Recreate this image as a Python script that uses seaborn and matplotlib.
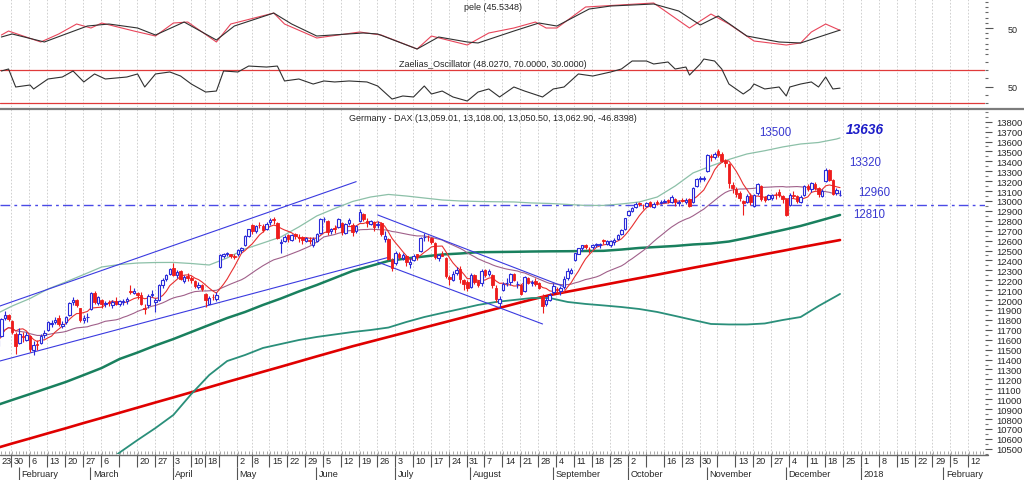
import numpy as np
import pandas as pd
import matplotlib
matplotlib.use("Agg")
import matplotlib.pyplot as plt
import seaborn as sns
from matplotlib.lines import Line2D
from matplotlib.ticker import MultipleLocator, FixedLocator

sns.set_style("white")
plt.rcParams['font.family'] = ['Liberation Sans', 'DejaVu Sans']

# ------------------------------------------------------------------ data
start_day, end_day = '2017-01-23', '2017-12-22'
holidays = ['2017-04-14', '2017-04-17', '2017-05-01']
future_end = '2018-02-28'

opens = [11590, 11540, 11640, 11820, 11850, 11790, 11660, 11570, 11640, 11600,
         11640, 11500, 11560, 11570, 11650, 11700, 11760, 11780, 11820, 11740,
         11780, 11850, 11980, 12000, 11920, 11800, 11830, 11910, 12070, 11970,
         12000, 11960, 11980, 11950, 11990, 11960, 11980, 11990, 12090, 12070,
         12070, 12050, 11920, 11950, 12050, 11980, 12000, 12150, 12210, 12260,
         12320, 12250, 12290, 12190, 12240, 12220, 12190, 12130, 12150,
         12060, 11960, 12030, 12010, 12330, 12440, 12470, 12460, 12440,
         12460, 12510, 12560, 12650, 12760, 12700, 12760, 12750, 12720,
         12790, 12820, 12780, 12580, 12600, 12660, 12610, 12670, 12640, 12640,
         12600, 12610, 12560, 12600, 12680, 12820, 12800, 12700, 12730, 12740,
         12780, 12680, 12780, 12760, 12700, 12800, 12870, 12800, 12770, 12790,
         12760, 12780, 12620, 12620, 12400, 12370, 12470, 12420, 12440, 12360,
         12400, 12460, 12500, 12640, 12640, 12630, 12580, 12420, 12470, 12420,
         12230, 12200, 12270, 12310, 12200, 12180, 12130, 12250, 12190, 12170,
         12300, 12260, 12250, 12120, 11970, 12100, 12170, 12180, 12260, 12160,
         12150, 12090, 12220, 12170, 12190, 12170, 12040, 11960, 12000, 12080,
         12110, 12090, 12130, 12220, 12270, 12400, 12470, 12530, 12560, 12520,
         12540, 12560, 12560, 12610, 12570, 12560, 12590, 12620, 12670, 12720,
         12860, 12900, 12940, 12980, 12960, 12950, 12990, 12940, 12990, 12980,
         12990, 13010, 12990, 13020, 12980, 13010, 12990, 13020, 12990, 13150,
         13220, 13220, 13300, 13450, 13440, 13500, 13470, 13400, 13370, 13160,
         13120, 13080, 13000, 12990, 13050, 12950, 13080, 13150, 13040, 13020,
         13030, 13060, 13090, 13050, 13020, 12960, 13060, 13050, 12990, 13060,
         13150, 13120, 13170, 13130, 13050, 13200, 13310, 13210, 13080, 13059.01]
highs = [11600, 11610, 11815, 11893, 11860, 11800, 11680, 11720, 11680, 11680,
         11650, 11590, 11600, 11660, 11700, 11790, 11800, 11830, 11850, 11790,
         11840, 11980, 12030, 12010, 11925, 11850, 11870, 12080, 12090, 12040,
         12010, 11990, 12000, 12000, 12030, 12000, 12010, 12030, 12150, 12120,
         12080, 12080, 11960, 12060, 12100, 12020, 12160, 12220, 12260, 12320,
         12375, 12300, 12300, 12250, 12270, 12240, 12200, 12180, 12160,
         12070, 12040, 12060, 12080, 12460, 12480, 12490, 12470, 12470,
         12520, 12540, 12660, 12720, 12770, 12760, 12790, 12770, 12790,
         12830, 12840, 12790, 12620, 12660, 12670, 12670, 12680, 12670, 12650,
         12640, 12640, 12640, 12680, 12830, 12840, 12810, 12730, 12760, 12830,
         12790, 12780, 12830, 12780, 12760, 12920, 12880, 12830, 12810, 12800,
         12800, 12790, 12700, 12630, 12420, 12500, 12490, 12480, 12450, 12420,
         12460, 12470, 12640, 12680, 12660, 12640, 12590, 12470, 12500, 12430,
         12250, 12290, 12330, 12340, 12210, 12200, 12270, 12260, 12200, 12310,
         12310, 12310, 12260, 12150, 12040, 12180, 12220, 12270, 12270, 12190,
         12160, 12240, 12230, 12200, 12220, 12180, 12060, 12030, 12070, 12170,
         12130, 12140, 12240, 12320, 12320, 12480, 12530, 12560, 12570, 12540,
         12570, 12580, 12580, 12620, 12610, 12610, 12630, 12670, 12720, 12830,
         12910, 12940, 12990, 12990, 12970, 12990, 13000, 12990, 13010, 13010,
         13020, 13020, 13060, 13030, 13010, 13030, 13030, 13030, 13140, 13230,
         13250, 13250, 13470, 13470, 13490, 13525, 13490, 13420, 13380, 13190,
         13140, 13100, 13010, 13070, 13080, 13070, 13180, 13160, 13050, 13070,
         13070, 13090, 13120, 13060, 13030, 13080, 13100, 13060, 13060, 13160,
         13170, 13190, 13190, 13140, 13120, 13330, 13320, 13220, 13130, 13108.00]
lows = [11490, 11510, 11630, 11800, 11790, 11660, 11460, 11560, 11580, 11590,
        11480, 11450, 11500, 11560, 11620, 11690, 11730, 11760, 11740, 11720,
        11760, 11840, 11950, 11930, 11780, 11770, 11780, 11900, 11960, 11950,
        11920, 11930, 11940, 11920, 11950, 11940, 11950, 11960, 12060, 12060,
        12010, 11950, 11860, 11920, 12030, 11880, 11990, 12120, 12190, 12250,
        12240, 12220, 12200, 12170, 12190, 12170, 12120, 12110, 12090,
        11930, 11960, 12000, 11990, 12320, 12420, 12440, 12420, 12410,
        12440, 12480, 12550, 12640, 12670, 12680, 12730, 12690, 12710,
        12760, 12770, 12620, 12480, 12590, 12590, 12600, 12620, 12590, 12570,
        12590, 12570, 12540, 12590, 12670, 12790, 12660, 12670, 12680, 12730,
        12660, 12670, 12760, 12650, 12680, 12790, 12800, 12740, 12760, 12700,
        12730, 12650, 12590, 12400, 12290, 12350, 12410, 12400, 12340, 12320,
        12390, 12400, 12490, 12600, 12600, 12570, 12410, 12390, 12440, 12220,
        12150, 12190, 12250, 12170, 12100, 12090, 12120, 12160, 12130, 12140,
        12230, 12240, 12120, 11980, 11930, 12090, 12140, 12150, 12190, 12120,
        12050, 12080, 12160, 12140, 12140, 12110, 11870, 11940, 11990, 12060,
        12060, 12050, 12110, 12200, 12260, 12390, 12460, 12500, 12520, 12480,
        12520, 12540, 12530, 12570, 12560, 12540, 12560, 12610, 12660, 12710,
        12850, 12890, 12930, 12950, 12920, 12940, 12940, 12930, 12960, 12970,
        12980, 12980, 12980, 12950, 12950, 12990, 12970, 12940, 12980, 13140,
        13190, 13200, 13290, 13400, 13420, 13440, 13390, 13340, 13130, 13080,
        13040, 13000, 12860, 12980, 12960, 12940, 13060, 13000, 12990, 13010,
        13010, 13020, 13040, 12980, 12850, 12950, 13030, 12980, 12980, 13050,
        13100, 13090, 13110, 13040, 13040, 13190, 13200, 13060, 13060, 13050.50]
closes = [11545, 11595, 11806, 11848, 11814, 11681, 11535, 11659, 11627, 11651,
          11509, 11549, 11543, 11642, 11666, 11774, 11771, 11794, 11757, 11757,
          11827, 11967, 11998, 11947, 11804, 11822, 11834, 12067, 11983, 12027,
          11958, 11967, 11967, 11978, 11963, 11990, 11988, 12009, 12083, 12095,
          12052, 11962, 11905, 12040, 12064, 11996, 12149, 12204, 12257, 12313,
          12257, 12282, 12217, 12230, 12225, 12201, 12139, 12154, 12109,
          12000, 12016, 12027, 12048, 12455, 12467, 12473, 12443, 12438,
          12507, 12528, 12648, 12717, 12694, 12749, 12757, 12711, 12770,
          12808, 12804, 12631, 12590, 12638, 12619, 12659, 12642, 12622, 12602,
          12628, 12599, 12615, 12664, 12822, 12822, 12690, 12714, 12714, 12815,
          12690, 12765, 12806, 12691, 12752, 12888, 12815, 12774, 12794, 12733,
          12771, 12671, 12647, 12416, 12325, 12475, 12437, 12453, 12381, 12389,
          12445, 12437, 12627, 12641, 12632, 12587, 12430, 12452, 12447, 12240,
          12209, 12263, 12305, 12212, 12162, 12118, 12251, 12181, 12154, 12297,
          12258, 12292, 12154, 12015, 12014, 12165, 12177, 12263, 12204, 12165,
          12066, 12230, 12175, 12181, 12167, 12123, 11945, 12002, 12055, 12142,
          12102, 12124, 12214, 12296, 12303, 12476, 12524, 12553, 12540, 12518,
          12559, 12561, 12569, 12600, 12592, 12594, 12605, 12657, 12704, 12828,
          12902, 12930, 12970, 12968, 12955, 12976, 12949, 12970, 12982, 12991,
          13003, 12995, 13043, 12990, 12991, 13003, 13013, 12953, 13133, 13217,
          13229, 13230, 13465, 13440, 13479, 13468, 13406, 13382, 13182, 13127,
          13074, 13034, 12976, 13047, 12994, 13059, 13168, 13015, 13008, 13060,
          13060, 13059, 13061, 13024, 12861, 13058, 13048, 12998, 13045, 13153,
          13123, 13183, 13126, 13068, 13104, 13312, 13215, 13069, 13110, 13062.90]

# weekly samples (every 5th trading day + last day) of the long indicator lines
line_days = list(range(0, 236, 5)) + [236]
band_upper = [11850, 11940, 12016, 12112, 12183, 12258, 12334, 12359, 12374, 12379,
              12380, 12369, 12354, 12425, 12516, 12576, 12637, 12738, 12849, 12924,
              12995, 13040, 13066, 13050, 13030, 13010, 13000, 12995, 12992, 12990,
              12980, 12975, 12965, 12955, 12955, 12970, 12990, 13040, 13151, 13283,
              13353, 13419, 13474, 13507, 13545, 13575, 13590, 13625, 13636]
band_mid = [10931, 10992, 11052, 11113, 11174, 11244, 11315, 11406, 11471, 11542,
            11607, 11678, 11749, 11819, 11880, 11951, 12016, 12087, 12152, 12223,
            12294, 12344, 12395, 12420, 12440, 12460, 12470, 12483, 12485, 12487,
            12490, 12492, 12493, 12495, 12497, 12510, 12526, 12536, 12546, 12561,
            12571, 12591, 12627, 12667, 12707, 12748, 12798, 12849, 12859]
band_lower = [10050, 10090, 10130, 10170, 10210, 10260, 10320, 10462, 10588, 10709,
              10841, 11052, 11244, 11385, 11446, 11517, 11557, 11597, 11628, 11653,
              11678, 11698, 11723, 11779, 11829, 11870, 11910, 11951, 11981, 12001,
              12021, 12021, 11981, 11961, 11946, 11930, 11910, 11880, 11840, 11799,
              11759, 11754, 11754, 11764, 11799, 11829, 11940, 12041, 12062]
ma200 = [10500, 10553, 10604, 10656, 10707, 10760, 10811, 10863, 10915, 10967,
         11018, 11070, 11121, 11174, 11225, 11277, 11328, 11380, 11432, 11483,
         11534, 11581, 11628, 11675, 11723, 11770, 11817, 11865, 11912, 11959,
         12006, 12050, 12085, 12119, 12153, 12188, 12222, 12256, 12291, 12326,
         12360, 12395, 12428, 12463, 12497, 12532, 12566, 12599, 12606]
fast_ma_len, slow_ma_len = 7, 30

# trend channels: (start day, end day), (start price, end price)
up_upper_days, up_upper_px = [0, 101], [11920, 13195]
up_lower_days, up_lower_px = [0, 110], [11370, 12431]
dn_upper_days, dn_upper_px = [107, 159], [12859, 12135]
dn_lower_days, dn_lower_px = [107, 153], [12384, 11759]
level_line = 12960

# oscillators (trading-day index, value)
pele_black_days = [2, 5, 14, 20, 26, 32, 40, 45, 53, 62, 67, 78, 83, 90, 103, 107, 118,
                   124, 132, 135, 145, 152, 157, 166, 172, 184, 191, 197, 202, 210, 219,
                   225, 236]
pele_black = [32.7, 38.5, 23.1, 38.5, 53.8, 57.7, 50, 36.5, 61.5, 26.9, 53.8, 78.8,
              57.7, 34.6, 40.4, 38.5, 9.6, 32.7, 23.1, 21.2, 44.2, 59.6, 53.8, 86.5,
              92.3, 96.2, 82.7, 55.8, 73.1, 34.6, 23.1, 21.2, 46.0]
pele_red_days = [2, 4, 13, 18, 23, 27, 30, 39, 45, 50, 54, 62, 66, 78, 81, 90, 102, 108,
                 118, 122, 132, 138, 145, 151, 154, 157, 165, 184, 194, 200, 205, 212,
                 221, 225, 228, 232, 236]
pele_red = [36.5, 44.2, 23.1, 38.5, 57.7, 50, 59.6, 44.2, 34.6, 59.6, 61.5, 23.1, 57.7,
            78.8, 57.7, 30.8, 42.3, 36.5, 9.6, 34.6, 17.3, 40.4, 50, 61.5, 50, 50, 90.4,
            98.1, 50, 76.9, 57.7, 25, 17.3, 21.2, 42.3, 57.7, 45.5]
zael_days = [2, 4, 6, 10, 11, 15, 19, 22, 25, 28, 31, 37, 40, 42, 45, 49, 52, 55, 59, 62,
             64, 68, 71, 76, 79, 81, 85, 89, 92, 95, 99, 104, 107, 111, 114, 117, 120,
             122, 125, 128, 132, 135, 138, 141, 145, 148, 153, 156, 159, 163, 167, 172,
             175, 178, 182, 184, 188, 190, 193, 194, 197, 198, 201, 203, 205, 209, 211,
             212, 215, 219, 221, 222, 225, 228, 230, 232, 234, 236]
zael_vals = [68.8, 71.2, 49.4, 51.8, 47, 59.1, 61.5, 68.8, 55.5, 65.2, 59.1, 61.5, 65.2,
             49.4, 65.2, 67.6, 62.7, 53, 43.3, 44.5, 68.8, 67.6, 74.8, 73.6, 74.8, 56.7,
             59.1, 53, 56.7, 55.5, 56.7, 55.5, 50.6, 34.8, 38.5, 37.3, 50.6, 40.9, 44.5,
             37.3, 32.4, 43.3, 47, 37.3, 49.4, 44.5, 37.3, 47, 49.4, 65.2, 62.7, 67.6,
             71.2, 80.9, 80.9, 77.3, 79.7, 71.2, 73.6, 63.9, 77.3, 83.3, 80.9, 71.2, 53,
             40.9, 47, 53, 47, 49.4, 38.5, 49.4, 53, 55.5, 49.4, 61.5, 47, 48.0]
zael_levels = [70, 30]

price_ticks = list(range(10500, 13801, 100))
blank_weeks = ['2017-03-13', '2017-04-24', '2017-10-09', '2017-11-06']
month_names = {1: 'January', 2: 'February', 3: 'March', 4: 'April', 5: 'May', 6: 'June',
               7: 'July', 8: 'August', 9: 'September', 10: 'October', 11: 'November',
               12: 'December'}

title_main = "Germany - DAX (13,059.01, 13,108.00, 13,050.50, 13,062.90, -46.8398)"
title_pele = "pele (45.5348)"
title_zael = "Zaelias_Oscillator (48.0270, 70.0000, 30.0000)"

# annotations: (text, day, price)
notes = [("13500", 218, 13696), ("13320", 243, 13394), ("12960", 245.5, 13091),
         ("12810", 244, 12869)]
note_big = ("13636", 243, 13727)

# ------------------------------------------------------------------ calendar
trade_days = pd.bdate_range(start_day, end_day).drop(pd.to_datetime(holidays))
future_days = pd.bdate_range(pd.Timestamp(end_day) + pd.Timedelta(days=1), future_end)
cal = trade_days.append(future_days)
n = len(trade_days)
xs = np.arange(n)

o = np.array(opens); h = np.array(highs); l = np.array(lows); c = np.array(closes)

# ------------------------------------------------------------------ figure
W, H = 1024, 481
fig = plt.figure(figsize=(W / 100, H / 100), dpi=100)


def rect(x0, y0, x1, y1):
    return [x0 / W, 1 - y1 / H, (x1 - x0) / W, (y1 - y0) / H]


px_per_day = 3.584
x_off = -5.8
xlim = ((0 - x_off) / px_per_day, (985 - x_off) / px_per_day)

ax_p = fig.add_axes(rect(0, 0, 985, 55))
ax_z = fig.add_axes(rect(0, 55, 985, 108))
ax_m = fig.add_axes(rect(0, 110, 985, 455))
ax_d = fig.add_axes(rect(0, 455, 985, 481))

BLUE = '#2b2bd8'
RED = '#ee1c1c'
GRID = '#c9c9c9'
TXT = '#262626'

# week / month positions
cal_df = pd.DataFrame({'d': cal, 'i': np.arange(len(cal))})
iso = cal.isocalendar()
cal_df['wk'] = iso['year'].values * 100 + iso['week'].values
week_first = cal_df.groupby('wk').first()
cal_df['mo'] = cal.year * 100 + cal.month
month_first = cal_df.groupby('mo').first()

for ax in (ax_p, ax_z, ax_m):
    for s in ax.spines.values():
        s.set_visible(False)
    ax.set_facecolor('white')
    for wi in week_first['i']:
        ax.axvline(wi - 0.2, color=GRID, lw=0.6, ls=(0, (2, 2)), zorder=0)

# ---- pele panel
sns.lineplot(x=pele_red_days, y=pele_red, ax=ax_p, color='#e8455a', lw=0.8,
             estimator=None, sort=False)
sns.lineplot(x=pele_black_days, y=pele_black, ax=ax_p, color='#303030', lw=0.8,
             estimator=None, sort=False)
ax_p.text(0.5, 0.86, title_pele, transform=ax_p.transAxes, ha='center', va='center',
          fontsize=6.5, color=TXT)

# ---- Zaelias panel
for lv in zael_levels:
    ax_z.axhline(lv, color='#e03a3a', lw=0.9, zorder=1)
sns.lineplot(x=zael_days, y=zael_vals, ax=ax_z, color='#303030', lw=0.8,
             estimator=None, sort=False)
ax_z.text(0.5, 0.83, title_zael, transform=ax_z.transAxes, ha='center', va='center',
          fontsize=6.5, color=TXT)

for ax, step in ((ax_p, 10), (ax_z, 10)):
    ax.yaxis.tick_right()
    ax.set_yticks([50])
    ax.set_yticklabels(['50'])
    ax.yaxis.set_minor_locator(MultipleLocator(step))
    ax.tick_params(axis='y', which='major', length=6, width=0.8, color='#555',
                   pad=10, labelsize=6.5, labelcolor=TXT, right=True)
    ax.tick_params(axis='y', which='minor', length=2.5, width=0.8, color='#666', right=True)
    ax.set_xticks([])
    ax.set_xlabel(''); ax.set_ylabel('')
ax_p.set_ylim(0, 105.8)
ax_z.set_ylim(25.15, 89.4)

# ---- main panel
sns.lineplot(x=line_days, y=ma200, ax=ax_m, color='#e00000', lw=1.9, estimator=None,
             sort=False, zorder=2)
sns.lineplot(x=line_days, y=band_lower, ax=ax_m, color='#2a8f7a', lw=1.3, estimator=None,
             sort=False, zorder=2)
sns.lineplot(x=line_days, y=band_mid, ax=ax_m, color='#19805e', lw=1.8, estimator=None,
             sort=False, zorder=2)
sns.lineplot(x=line_days, y=band_upper, ax=ax_m, color='#8cc0a8', lw=0.9, estimator=None,
             sort=False, zorder=2)

close_s = pd.Series(c)
fast_ma = close_s.rolling(fast_ma_len, min_periods=1).mean()
slow_ma = close_s.rolling(slow_ma_len, min_periods=1).mean()
sns.lineplot(x=xs, y=slow_ma.values, ax=ax_m, color='#a0608a', lw=0.8, estimator=None,
             sort=False, zorder=2)
sns.lineplot(x=xs, y=fast_ma.values, ax=ax_m, color='#e83030', lw=0.8, estimator=None,
             sort=False, zorder=2)

for dd, pp in ((up_upper_days, up_upper_px), (up_lower_days, up_lower_px),
               (dn_upper_days, dn_upper_px), (dn_lower_days, dn_lower_px)):
    sns.lineplot(x=dd, y=pp, ax=ax_m, color='#3a3ae0', lw=0.8, estimator=None,
                 sort=False, zorder=2)

ax_m.axhline(level_line, color='#4a4ae6', lw=1.0, ls=(0, (7, 3, 2, 3)), zorder=1)

# candles
up = c >= o
wick_col = np.where(up, BLUE, RED)
ax_m.vlines(xs, l, h, colors=wick_col, lw=0.8, zorder=3)
ax_m.bar(xs[up], (c - o)[up], bottom=o[up], width=0.7, facecolor='white',
         edgecolor=BLUE, linewidth=0.8, zorder=4)
ax_m.bar(xs[~up], (o - c)[~up], bottom=c[~up], width=0.7, facecolor=RED,
         edgecolor=RED, linewidth=0.6, zorder=4)

ax_m.yaxis.tick_right()
ax_m.yaxis.set_major_locator(FixedLocator(price_ticks))
ax_m.set_yticklabels([str(t) for t in price_ticks])
ax_m.yaxis.set_minor_locator(MultipleLocator(50))
ax_m.tick_params(axis='y', which='major', length=5, width=0.8, color='#555', pad=3,
                 labelsize=6.8, labelcolor=TXT, right=True)
ax_m.tick_params(axis='y', which='minor', length=2, width=0.8, color='#777', right=True)
ax_m.set_xticks([])
ax_m.set_xticks(np.arange(len(cal)), minor=True)
ax_m.tick_params(axis='x', which='minor', direction='in', length=2, width=0.5,
                 color='#888', bottom=True)
ax_m.set_xlabel(''); ax_m.set_ylabel('')
ax_m.set_ylim(10447, 13928)

ax_m.text(0.5, 0.976, title_main, transform=ax_m.transAxes, ha='center', va='center',
          fontsize=6.5, color=TXT)
for t, dx, py in notes:
    ax_m.text(dx, py, t, ha='center', va='center', fontsize=8.3, color='#3838d0')
ax_m.text(note_big[1], note_big[2], note_big[0], ha='center', va='center', fontsize=9.8,
          color='#1c1cc8', fontweight='bold', fontstyle='italic')

# ---- date axis
ax_d.set_ylim(0, 1)
ax_d.axis('off')
blank = set(pd.to_datetime(blank_weeks))
for _, r in week_first.iterrows():
    wi = r['i']
    ax_d.vlines(wi - 0.2, 0.5, 1.0, color='#555', lw=0.8)
    lab = '' if r['d'] in blank else str(r['d'].day)
    tx = max(wi + 0.5, xlim[0] + 0.3)
    if tx < xlim[1] - 2:
        ax_d.text(tx, 0.74, lab, ha='left', va='center', fontsize=6.6, color=TXT)
for _, r in month_first.iterrows():
    d = r['d']
    if d == cal[0]:
        continue
    mi = r['i']
    if mi > xlim[1] - 8:
        continue
    ax_d.vlines(mi - 0.2, 0.0, 0.5, color='#555', lw=0.8)
    lab = str(d.year) if d.month == 1 else month_names[d.month]
    ax_d.text(mi + 0.5, 0.25, lab, ha='left', va='center', fontsize=6.6, color=TXT)

# fix the shared horizontal scale last (tick setting may expand limits)
for ax in (ax_p, ax_z, ax_m, ax_d):
    ax.set_xlim(*xlim)

fig.add_artist(Line2D([0, 988 / W], [1 - 455.5 / H] * 2, color='#6a6a6a', lw=1.0))
fig.add_artist(Line2D([0, 1], [1 - 109.5 / H] * 2, color='#7c7c7c', lw=1.6))

fig.savefig('out.png', dpi=100, facecolor='white')
